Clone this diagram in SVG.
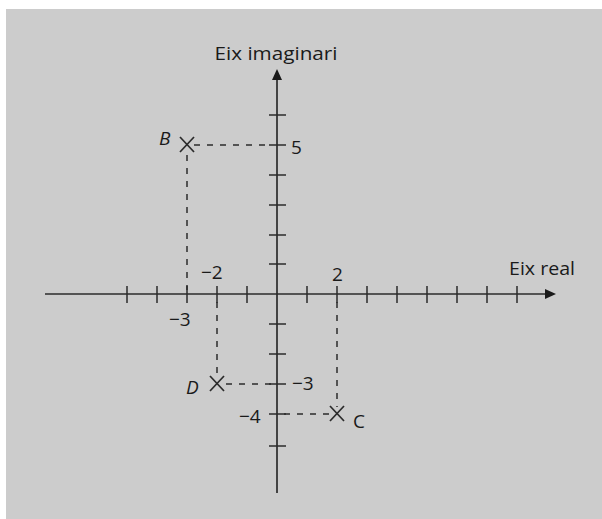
<svg xmlns="http://www.w3.org/2000/svg" width="602" height="519" viewBox="0 0 602 519">
<defs>
<style>
.ax{stroke:#2b2b2b;stroke-width:1.7;fill:none}
.tk{stroke:#2b2b2b;stroke-width:1.5}
.ds{stroke:#2b2b2b;stroke-width:1.5;stroke-dasharray:6,7;fill:none}
.mk{stroke:#2b2b2b;stroke-width:1.7}
.t{font-family:"Open Sans","Noto Sans",sans-serif;font-size:19px;fill:#1a1a1a}
.i{font-style:italic}
</style>
</defs>
<rect x="0" y="0" width="602" height="519" fill="#ffffff"/>
<rect x="6" y="9" width="596" height="510" fill="#cccccc"/>
<g id="connectors">
<line class="ax" x1="45" y1="294" x2="548" y2="294"/>
<polygon points="556,294 545,289 545,299" fill="#1a1a1a"/>
<line class="ax" x1="277" y1="493" x2="277" y2="77"/>
<polygon points="277,69 272,80 282,80" fill="#1a1a1a"/>
<g id="xticks">
<line class="tk" x1="127" y1="286" x2="127" y2="303"/>
<line class="tk" x1="157" y1="286" x2="157" y2="303"/>
<line class="tk" x1="187" y1="286" x2="187" y2="303"/>
<line class="tk" x1="217" y1="286" x2="217" y2="303"/>
<line class="tk" x1="247" y1="286" x2="247" y2="303"/>
<line class="tk" x1="307" y1="286" x2="307" y2="303"/>
<line class="tk" x1="337" y1="286" x2="337" y2="303"/>
<line class="tk" x1="367" y1="286" x2="367" y2="303"/>
<line class="tk" x1="397" y1="286" x2="397" y2="303"/>
<line class="tk" x1="427" y1="286" x2="427" y2="303"/>
<line class="tk" x1="457" y1="286" x2="457" y2="303"/>
<line class="tk" x1="487" y1="286" x2="487" y2="303"/>
<line class="tk" x1="517" y1="286" x2="517" y2="303"/>
</g>
<g id="yticks">
<line class="tk" x1="269" y1="115" x2="286" y2="115"/>
<line class="tk" x1="269" y1="145" x2="286" y2="145"/>
<line class="tk" x1="269" y1="175" x2="286" y2="175"/>
<line class="tk" x1="269" y1="205" x2="286" y2="205"/>
<line class="tk" x1="269" y1="235" x2="286" y2="235"/>
<line class="tk" x1="269" y1="264" x2="286" y2="264"/>
<line class="tk" x1="269" y1="324" x2="286" y2="324"/>
<line class="tk" x1="269" y1="354" x2="286" y2="354"/>
<line class="tk" x1="269" y1="384" x2="286" y2="384"/>
<line class="tk" x1="269" y1="414" x2="286" y2="414"/>
<line class="tk" x1="269" y1="446" x2="286" y2="446"/>
</g>
<path class="ds" d="M194,145 H272"/>
<path class="ds" d="M187,155 V290"/>
<path class="ds" d="M217,302 V377"/>
<path class="ds" d="M226,384 H272"/>
<path class="ds" d="M337,302 V407"/>
<path class="ds" d="M284,414 H330"/>
</g>
<g id="B">
<line class="mk" x1="180" y1="137" x2="194" y2="152"/>
<line class="mk" x1="194" y1="137" x2="180" y2="152"/>
<text class="t i" x="159" y="145">B</text>
</g>
<g id="D">
<line class="mk" x1="210" y1="376" x2="224" y2="391"/>
<line class="mk" x1="224" y1="376" x2="210" y2="391"/>
<text class="t i" x="186" y="394">D</text>
</g>
<g id="C">
<line class="mk" x1="330" y1="406" x2="344" y2="421"/>
<line class="mk" x1="344" y1="406" x2="330" y2="421"/>
<text class="t" x="353" y="428">C</text>
</g>
<g id="labels">
<text class="t" x="276" y="60" text-anchor="middle" font-size="20" textLength="123" lengthAdjust="spacingAndGlyphs">Eix imaginari</text>
<text class="t" x="509" y="275" font-size="20" textLength="66" lengthAdjust="spacingAndGlyphs">Eix real</text>
<text class="t" x="291" y="154">5</text>
<text class="t" x="201" y="279">−2</text>
<text class="t" x="169" y="326">−3</text>
<text class="t" x="332" y="281">2</text>
<text class="t" x="292" y="390">−3</text>
<text class="t" x="239" y="423">−4</text>
</g>
</svg>
